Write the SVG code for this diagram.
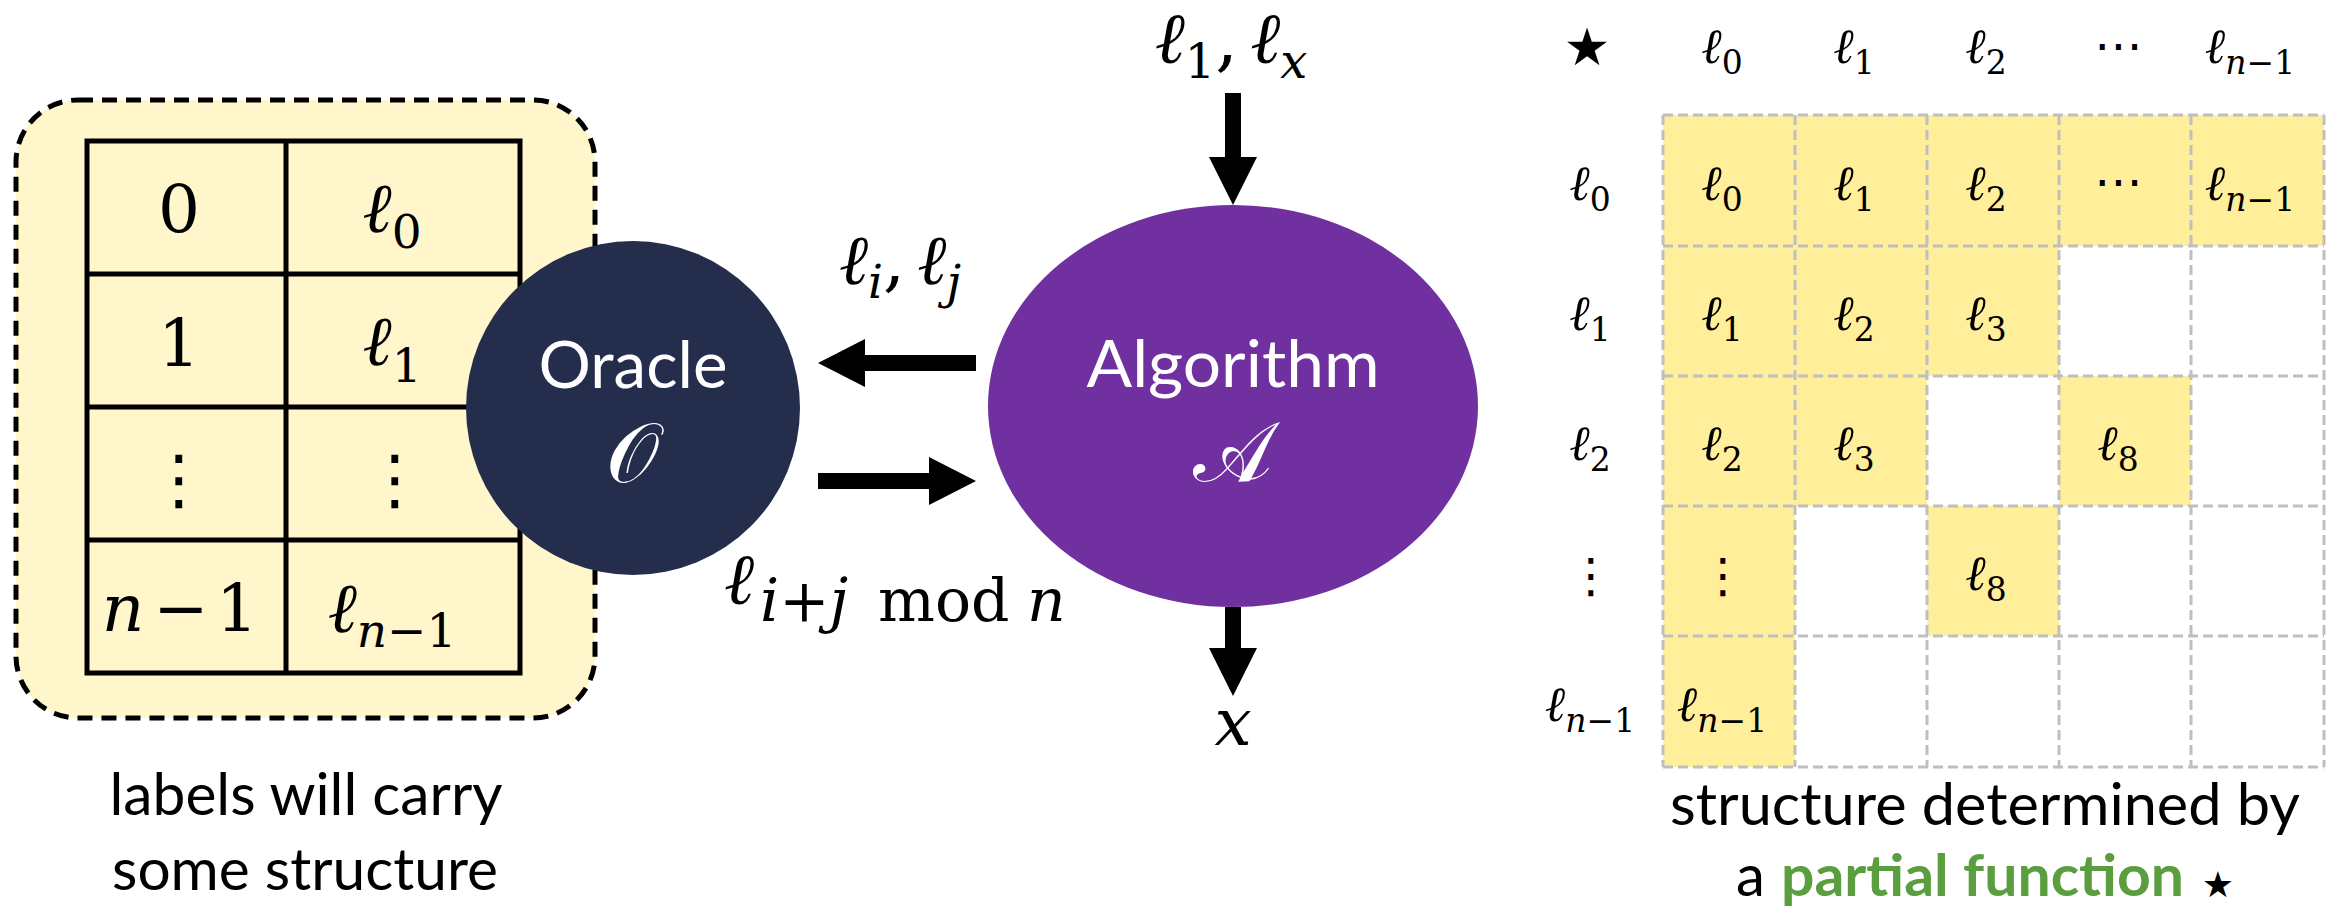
<svg xmlns="http://www.w3.org/2000/svg" width="2336" height="910" viewBox="0 0 2336 910">
<style>
.m{font-family:"DejaVu Serif","Liberation Serif",serif;fill:#000}
.i{font-style:italic}
.dots{font-family:"DejaVu Sans","Liberation Sans",sans-serif;fill:#000}
.sans{font-family:"Lato","Open Sans","Liberation Sans",sans-serif;fill:#000}
.tl{stroke:#000;stroke-width:5;fill:none}
.gd{stroke:#BFBFBF;stroke-width:3;stroke-dasharray:10 5;fill:none}
.yc{fill:#FFEE9A}
.arrow{fill:#000}
.wt{fill:#fff}
</style>
<rect x="0" y="0" width="2336" height="910" fill="#fff"/>

<g id="label-table">
  <rect x="16" y="100" width="579" height="618" rx="62" fill="#FFF6CC" stroke="#000" stroke-width="5" stroke-dasharray="15 9"/>
  <rect class="tl" x="87" y="141" width="433" height="532"/>
  <line class="tl" x1="286" y1="141" x2="286" y2="673"/>
  <line class="tl" x1="87" y1="274" x2="520" y2="274"/>
  <line class="tl" x1="87" y1="407" x2="520" y2="407"/>
  <line class="tl" x1="87" y1="540" x2="520" y2="540"/>
  <text class="m" x="179" y="232" font-size="66" text-anchor="middle">0</text>
  <text class="m" x="179" y="366" font-size="66" text-anchor="middle">1</text>
  <text class="dots" x="179" y="502" font-size="66" text-anchor="middle">⋮</text>
  <text class="m" y="631" font-size="66" text-anchor="middle"><tspan x="123" class="i">n</tspan><tspan x="181">−</tspan><tspan x="237">1</tspan></text>
  <text class="m" x="392" y="232" font-size="70" text-anchor="middle"><tspan class="i">ℓ</tspan><tspan font-size="47" dy="16">0</tspan></text>
  <text class="m" x="392" y="365" font-size="70" text-anchor="middle"><tspan class="i">ℓ</tspan><tspan font-size="47" dy="17">1</tspan></text>
  <text class="dots" x="395" y="502" font-size="66" text-anchor="middle">⋮</text>
  <text class="m" x="392" y="632" font-size="70" text-anchor="middle"><tspan class="i">ℓ</tspan><tspan font-size="47" dy="15"><tspan class="i">n</tspan>−1</tspan></text>
  <text class="sans" x="306" y="815" font-size="58" text-anchor="middle" textLength="393" lengthAdjust="spacingAndGlyphs">labels will carry</text>
  <text class="sans" x="305" y="890" font-size="58" text-anchor="middle" textLength="386" lengthAdjust="spacingAndGlyphs">some structure</text>
</g>

<g id="oracle">
  <circle cx="633" cy="408" r="167" fill="#252D4D"/>
  <text class="sans wt" x="633" y="388" font-size="66" text-anchor="middle" textLength="189" lengthAdjust="spacingAndGlyphs">Oracle</text>
  <text class="m wt" x="632" y="482" font-size="84" text-anchor="middle">𝒪</text>
</g>

<g id="algorithm">
  <ellipse cx="1233" cy="406" rx="245" ry="201" fill="#7030A0"/>
  <text class="sans wt" x="1233" y="387" font-size="66" text-anchor="middle" textLength="293" lengthAdjust="spacingAndGlyphs">Algorithm</text>
  <text class="m wt" x="1232" y="481" font-size="84" text-anchor="middle">𝒜</text>
</g>

<g id="connectors">
  <polygon class="arrow" points="818,363 865,339 865,355 976,355 976,371 865,371 865,387"/>
  <polygon class="arrow" points="976,481 929,457 929,473 818,473 818,489 929,489 929,505"/>
  <polygon class="arrow" points="1233,205 1209,157 1225,157 1225,93 1241,93 1241,157 1257,157"/>
  <polygon class="arrow" points="1233,696 1209,648 1225,648 1225,607 1241,607 1241,648 1257,648"/>
  <text class="m" x="900" y="284" font-size="70" text-anchor="middle"><tspan class="i">ℓ</tspan><tspan class="i" font-size="47" dy="14">i</tspan><tspan dy="-14">,</tspan><tspan class="i" dx="12">ℓ</tspan><tspan class="i" font-size="47" dy="14">j</tspan></text>
  <text class="m" x="724" y="604" font-size="72"><tspan class="i">ℓ</tspan><tspan font-size="60" dy="17"><tspan class="i" x="760">i</tspan>+<tspan class="i">j</tspan><tspan x="878">mod</tspan><tspan class="i" x="1027">n</tspan></tspan></text>
  <text class="m" x="1231" y="63" font-size="72" text-anchor="middle"><tspan class="i">ℓ</tspan><tspan font-size="48" dy="15">1</tspan><tspan dy="-15">,</tspan><tspan class="i" dx="12">ℓ</tspan><tspan class="i" font-size="48" dy="15">x</tspan></text>
  <text class="m i" x="1233" y="745" font-size="66" text-anchor="middle">x</text>
</g>

<g id="star-table">
  <rect class="yc" x="1663" y="115" width="661" height="131"/>
  <rect class="yc" x="1663" y="246" width="396" height="130"/>
  <rect class="yc" x="1663" y="376" width="264" height="130"/>
  <rect class="yc" x="2059" y="376" width="132" height="130"/>
  <rect class="yc" x="1663" y="506" width="132" height="261"/>
  <rect class="yc" x="1927" y="506" width="132" height="130"/>
  <g class="gd">
    <line x1="1663" y1="115" x2="1663" y2="767"/>
    <line x1="1795" y1="115" x2="1795" y2="767"/>
    <line x1="1927" y1="115" x2="1927" y2="767"/>
    <line x1="2059" y1="115" x2="2059" y2="767"/>
    <line x1="2191" y1="115" x2="2191" y2="767"/>
    <line x1="2324" y1="115" x2="2324" y2="767"/>
    <line x1="1663" y1="115" x2="2324" y2="115"/>
    <line x1="1663" y1="246" x2="2324" y2="246"/>
    <line x1="1663" y1="376" x2="2324" y2="376"/>
    <line x1="1663" y1="506" x2="2324" y2="506"/>
    <line x1="1663" y1="636" x2="2324" y2="636"/>
    <line x1="1663" y1="767" x2="2324" y2="767"/>
  </g>
  <!-- header row -->
  <text class="dots" x="1587" y="65" font-size="52" text-anchor="middle">★</text>
  <text class="m" x="1722" y="63" font-size="49" text-anchor="middle"><tspan class="i">ℓ</tspan><tspan font-size="33" dy="11">0</tspan></text>
  <text class="m" x="1854" y="63" font-size="49" text-anchor="middle"><tspan class="i">ℓ</tspan><tspan font-size="33" dy="11">1</tspan></text>
  <text class="m" x="1986" y="63" font-size="49" text-anchor="middle"><tspan class="i">ℓ</tspan><tspan font-size="33" dy="11">2</tspan></text>
  <text class="dots" x="2118" y="62" font-size="48" text-anchor="middle">⋯</text>
  <text class="m" x="2250" y="63" font-size="49" text-anchor="middle"><tspan class="i">ℓ</tspan><tspan font-size="33" dy="11"><tspan class="i">n</tspan>−1</tspan></text>
  <!-- row headers -->
  <text class="m" x="1590" y="200" font-size="49" text-anchor="middle"><tspan class="i">ℓ</tspan><tspan font-size="33" dy="11">0</tspan></text>
  <text class="m" x="1590" y="330" font-size="49" text-anchor="middle"><tspan class="i">ℓ</tspan><tspan font-size="33" dy="11">1</tspan></text>
  <text class="m" x="1590" y="460" font-size="49" text-anchor="middle"><tspan class="i">ℓ</tspan><tspan font-size="33" dy="11">2</tspan></text>
  <text class="dots" x="1591" y="592" font-size="48" text-anchor="middle">⋮</text>
  <text class="m" x="1590" y="721" font-size="49" text-anchor="middle"><tspan class="i">ℓ</tspan><tspan font-size="33" dy="11"><tspan class="i">n</tspan>−1</tspan></text>
  <!-- row 0 -->
  <text class="m" x="1722" y="200" font-size="49" text-anchor="middle"><tspan class="i">ℓ</tspan><tspan font-size="33" dy="11">0</tspan></text>
  <text class="m" x="1854" y="200" font-size="49" text-anchor="middle"><tspan class="i">ℓ</tspan><tspan font-size="33" dy="11">1</tspan></text>
  <text class="m" x="1986" y="200" font-size="49" text-anchor="middle"><tspan class="i">ℓ</tspan><tspan font-size="33" dy="11">2</tspan></text>
  <text class="dots" x="2118" y="198" font-size="48" text-anchor="middle">⋯</text>
  <text class="m" x="2250" y="200" font-size="49" text-anchor="middle"><tspan class="i">ℓ</tspan><tspan font-size="33" dy="11"><tspan class="i">n</tspan>−1</tspan></text>
  <!-- row 1 -->
  <text class="m" x="1722" y="330" font-size="49" text-anchor="middle"><tspan class="i">ℓ</tspan><tspan font-size="33" dy="11">1</tspan></text>
  <text class="m" x="1854" y="330" font-size="49" text-anchor="middle"><tspan class="i">ℓ</tspan><tspan font-size="33" dy="11">2</tspan></text>
  <text class="m" x="1986" y="330" font-size="49" text-anchor="middle"><tspan class="i">ℓ</tspan><tspan font-size="33" dy="11">3</tspan></text>
  <!-- row 2 -->
  <text class="m" x="1722" y="460" font-size="49" text-anchor="middle"><tspan class="i">ℓ</tspan><tspan font-size="33" dy="11">2</tspan></text>
  <text class="m" x="1854" y="460" font-size="49" text-anchor="middle"><tspan class="i">ℓ</tspan><tspan font-size="33" dy="11">3</tspan></text>
  <text class="m" x="2118" y="460" font-size="49" text-anchor="middle"><tspan class="i">ℓ</tspan><tspan font-size="33" dy="11">8</tspan></text>
  <!-- row 3 -->
  <text class="dots" x="1723" y="592" font-size="48" text-anchor="middle">⋮</text>
  <text class="m" x="1986" y="590" font-size="49" text-anchor="middle"><tspan class="i">ℓ</tspan><tspan font-size="33" dy="11">8</tspan></text>
  <!-- row 4 -->
  <text class="m" x="1722" y="721" font-size="49" text-anchor="middle"><tspan class="i">ℓ</tspan><tspan font-size="33" dy="11"><tspan class="i">n</tspan>−1</tspan></text>
  <text class="sans" x="1985" y="825" font-size="58" text-anchor="middle" textLength="630" lengthAdjust="spacingAndGlyphs">structure determined by</text>
  <text class="sans" x="1736" y="896" font-size="58">a</text>
  <text class="sans" x="1781" y="896" font-size="58" font-weight="bold" style="fill:#5B9E40" textLength="403" lengthAdjust="spacingAndGlyphs">partial function</text>
  <text class="dots" x="2218" y="897" font-size="36" text-anchor="middle">★</text>
</g>
</svg>
